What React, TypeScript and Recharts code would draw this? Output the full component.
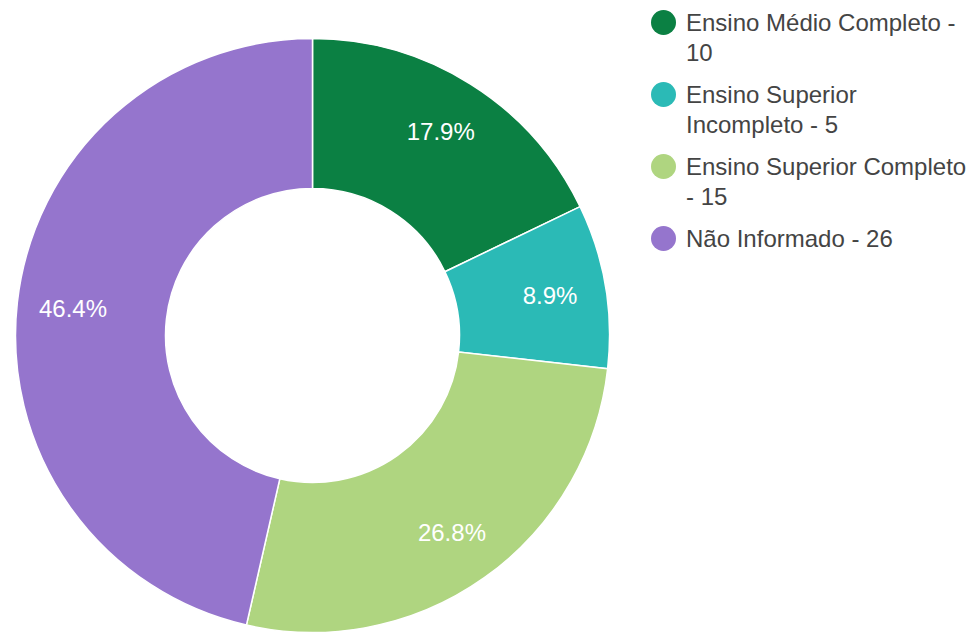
import { PieChart, Pie, Cell, Legend } from "recharts";

const categories = [
  "Ensino Médio Completo",
  "Ensino Superior Incompleto",
  "Ensino Superior Completo",
  "Não Informado",
];
const counts = [10, 5, 15, 26];
const colors = ["#0b8043", "#2bbab6", "#afd580", "#9575cd"];

const data = categories.map((name, i) => ({ name, value: counts[i] }));
const total = counts.reduce((a, b) => a + b, 0);

const FONT = "'Liberation Sans', Arial, sans-serif";
const RAD = Math.PI / 180;

// rótulo de porcentagem dentro da fatia
function renderLabel(props: any) {
  const { cx, cy, midAngle, value } = props;
  const r = 241;
  const x = cx + r * Math.cos(-midAngle * RAD);
  const y = cy + r * Math.sin(-midAngle * RAD);
  return (
    <text
      x={x}
      y={y}
      fill="#ffffff"
      textAnchor="middle"
      dominantBaseline="central"
      fontFamily={FONT}
      fontSize={24}
    >
      {((value / total) * 100).toFixed(1)}%
    </text>
  );
}

function LegendContent() {
  return (
    <div style={{ fontFamily: FONT, fontSize: 24, color: "#444", lineHeight: "30px" }}>
      {data.map((d, i) => (
        <div key={d.name} style={{ display: "flex", alignItems: "flex-start", marginBottom: 12 }}>
          <span
            style={{
              width: 25,
              height: 25,
              borderRadius: "50%",
              background: colors[i],
              flex: "0 0 auto",
              marginTop: 2.5,
              marginRight: 10,
            }}
          />
          <span style={{ width: 288 }}>
            {d.name} - {d.value}
          </span>
        </div>
      ))}
    </div>
  );
}

export default function App() {
  return (
    <div style={{ position: "absolute", left: 0, top: 0, background: "#fff" }}>
      <PieChart width={974} height={632} margin={{ top: 0, right: 0, bottom: 0, left: 0 }}>
        <Pie
          data={data}
          dataKey="value"
          nameKey="name"
          cx={312.5}
          cy={335.5}
          innerRadius={147}
          outerRadius={297}
          startAngle={90}
          endAngle={-270}
          stroke="#ffffff"
          strokeWidth={1.5}
          label={renderLabel}
          labelLine={false}
          isAnimationActive={false}
        >
          {data.map((d, i) => (
            <Cell key={d.name} fill={colors[i]} />
          ))}
        </Pie>
        <Legend
          layout="vertical"
          align="right"
          verticalAlign="top"
          content={<LegendContent />}
          wrapperStyle={{ left: 651, top: 7.5, width: 323 }}
        />
      </PieChart>
    </div>
  );
}
